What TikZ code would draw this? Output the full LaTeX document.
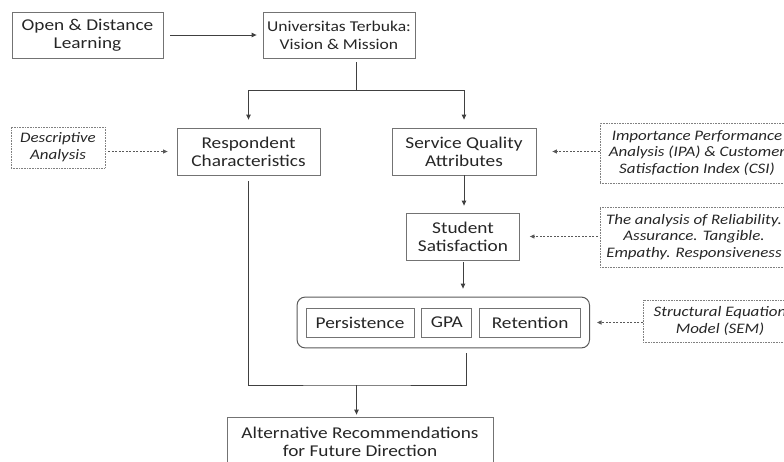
\documentclass[tikz,border=0pt]{standalone}
\usepackage{fontspec}
\setmainfont{Carlito}[FakeStretch=1.17]
\usepackage{tikz}
\usetikzlibrary{positioning,arrows.meta,fit}

\begin{document}
\begin{tikzpicture}[x=1pt,y=-1pt]
        \tikzstyle{stage}=[rectangle, draw=black!55, line width=0.8pt, text=black!85, align=center, font=\fontsize{16.5}{18.3}\selectfont, minimum height=47pt, inner sep=0pt];
        \tikzstyle{method}=[rectangle, draw=black!50, densely dotted, line width=0.6pt, text=black!85, align=center, font=\fontsize{14.5}{16.8}\selectfont\itshape, inner sep=0pt];
        \tikzstyle{outcome}=[rectangle, draw=black!55, line width=0.8pt, text=black!85, font=\fontsize{16.5}{18.3}\selectfont, minimum height=29pt, inner sep=0pt];
        \tikzstyle{flow}=[draw=black!75, line width=1pt, -{Triangle[length=5pt,width=4.5pt]}];
        \tikzstyle{link}=[draw=black!75, line width=1pt];
        \tikzstyle{hint}=[draw=black!65, line width=0.8pt, dash pattern=on 2pt off 1.5pt, -{Triangle[length=4.5pt,width=4pt]}];

        \useasboundingbox (0,0) rectangle (784,461);
        \clip (0,0) rectangle (784,461);

        \node [stage, minimum width=151pt, minimum height=46pt] (ODL) at (87.5,35) {Open \& Distance\\Learning};
        \node [stage, minimum width=152pt, minimum height=46pt, font=\fontsize{15}{18.3}\selectfont] (UT) at (339,35) {Universitas Terbuka:\\Vision \& Mission};
        \node [stage, minimum width=143pt] (RC) at (248.5,151.5) {Respondent\\Characteristics};
        \node [stage, minimum width=144pt] (SQA) at (464,151.5) {Service Quality\\Attributes};
        \node [stage, minimum width=113pt] (SS) at (463,236.5) {Student\\Satisfaction};

        \node [outcome, minimum width=108pt] (Pers) at (360,322.5) {Persistence};
        \node [outcome, minimum width=50pt, right=7pt of Pers] (GPA) {GPA};
        \node [outcome, minimum width=101pt, right=7pt of GPA] (Ret) {Retention};
        \node [rectangle, rounded corners=8pt, draw=black!65, line width=1pt, fit=(Pers)(GPA)(Ret), inner xsep=8.5pt, inner ysep=10.5pt] (Out) {};

        \node [stage, minimum width=266pt, minimum height=50pt] (Alt) at (360,442) {Alternative Recommendations\\for Future Direction};

        \node [method, minimum width=94pt, minimum height=41pt] (DA) at (58,147.5) {Descriptive\\Analysis};
        \node [method, minimum width=194pt, minimum height=60pt] (IPA) at (697,153) {Importance Performance\\Analysis (IPA) \& Customer\\Satisfaction Index (CSI)};
        \node [method, minimum width=188pt, minimum height=60pt] (REL) at (694,237) {The analysis of Reliability.\\Assurance. Tangible.\\Empathy. Responsiveness};
        \node [method, minimum width=154pt, minimum height=42pt] (SEM) at (720,321) {Structural Equation\\Model (SEM)};

        \draw [flow, shorten <=7pt, shorten >=6pt] (ODL) -- (UT);
        \coordinate (split) at (356.5,90);
        \draw [link, shorten <=4pt] (UT.south -| split) -- (split);
        \draw [flow, shorten >=8pt] (split) -| (RC.north);
        \draw [flow, shorten >=8pt] (split) -| (SQA.north);
        \draw [flow, shorten >=7pt] (SQA.south) -- (SQA.south |- SS.north);
        \draw [flow, shorten <=2pt, shorten >=8pt] (SS.south) -- (SS.south |- Out.north);

        \coordinate (merge) at (356.5,385);
        \draw [link, shorten <=6pt, shorten >=5pt] (RC.south) |- (merge) -| ([xshift=23pt]Out.south);
        \draw [flow, shorten >=2pt] (merge) -- (merge |- Alt.north);

        \draw [hint, shorten <=3pt, shorten >=9pt] (DA.east |- RC.west) -- (RC.west);
        \draw [hint, shorten >=16pt] (IPA.west |- SQA.east) -- (SQA.east);
        \draw [hint, shorten <=2pt, shorten >=10pt] (REL.west |- SS.east) -- (SS.east);
        \draw [hint, shorten >=7pt] (SEM.west |- Out.east) -- (Out.east);
\end{tikzpicture}
\end{document}
